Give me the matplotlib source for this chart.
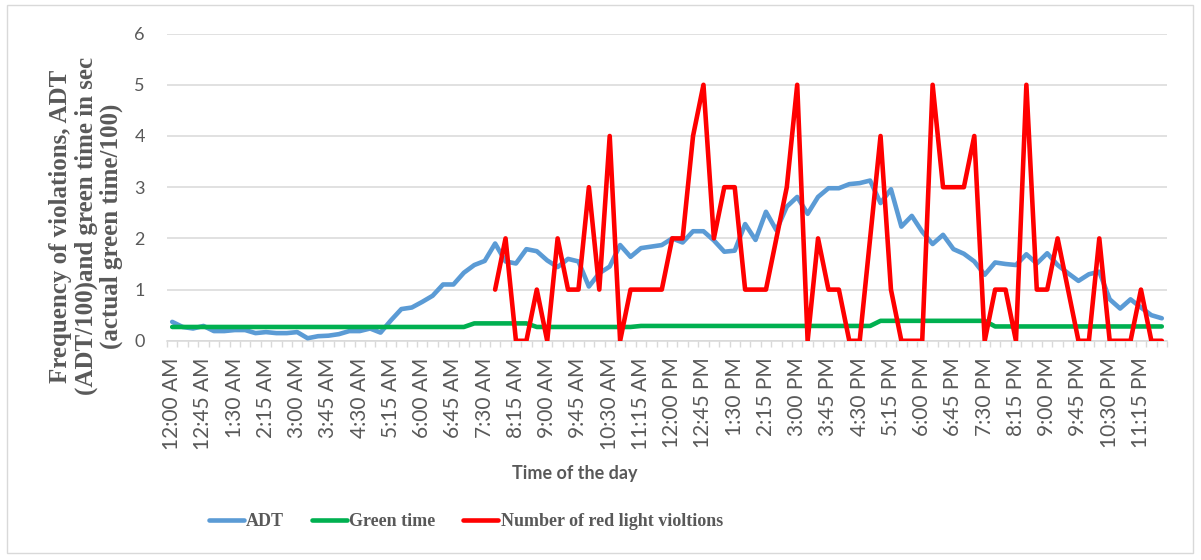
import matplotlib
matplotlib.use('Agg')
import matplotlib.pyplot as plt
from matplotlib.patches import Rectangle
import numpy as np

plt.rcParams['font.family'] = ['Lato', 'DejaVu Sans']

# Time labels, one every 15 minutes
times = []
for h in range(24):
    for m in (0, 15, 30, 45):
        hh = h % 12
        if hh == 0:
            hh = 12
        times.append('%d:%02d %s' % (hh, m, 'AM' if h < 12 else 'PM'))

# ADT (ADT/100)
adt = [0.37, 0.27, 0.24, 0.29, 0.19, 0.19, 0.21, 0.21, 0.15, 0.17,
       0.15, 0.15, 0.17, 0.05, 0.09, 0.10, 0.13, 0.19, 0.19, 0.24,
       0.16, 0.40, 0.62, 0.65, 0.76, 0.88, 1.10, 1.10, 1.33, 1.48,
       1.56, 1.90, 1.55, 1.51, 1.79, 1.75, 1.57, 1.44, 1.60, 1.55,
       1.06, 1.32, 1.45, 1.87, 1.64, 1.81, 1.84, 1.87, 2.00, 1.92,
       2.14, 2.14, 1.96, 1.74, 1.76, 2.28, 1.97, 2.52, 2.16, 2.62,
       2.81, 2.48, 2.81, 2.98, 2.98, 3.06, 3.08, 3.13, 2.69, 2.96,
       2.23, 2.44, 2.13, 1.89, 2.07, 1.79, 1.70, 1.55, 1.29, 1.53,
       1.50, 1.48, 1.69, 1.51, 1.71, 1.48, 1.32, 1.17, 1.30, 1.35,
       0.81, 0.63, 0.81, 0.65, 0.50, 0.44]

# Green time (actual green time/100)
green = [0.27, 0.27, 0.27, 0.27, 0.27, 0.27, 0.27, 0.27, 0.27, 0.27,
         0.27, 0.27, 0.27, 0.27, 0.27, 0.27, 0.27, 0.27, 0.27, 0.27,
         0.27, 0.27, 0.27, 0.27, 0.27, 0.27, 0.27, 0.27, 0.27, 0.34,
         0.34, 0.34, 0.34, 0.34, 0.34, 0.27, 0.27, 0.27, 0.27, 0.27,
         0.27, 0.27, 0.27, 0.27, 0.27, 0.29, 0.29, 0.29, 0.29, 0.29,
         0.29, 0.29, 0.29, 0.29, 0.29, 0.29, 0.29, 0.29, 0.29, 0.29,
         0.29, 0.29, 0.29, 0.29, 0.29, 0.29, 0.29, 0.29, 0.39, 0.39,
         0.39, 0.39, 0.39, 0.39, 0.39, 0.39, 0.39, 0.39, 0.39, 0.28,
         0.28, 0.28, 0.28, 0.28, 0.28, 0.28, 0.28, 0.28, 0.28, 0.28,
         0.28, 0.28, 0.28, 0.28, 0.28, 0.28]

# Red light violations (no data before 7:45 AM)
violations = [None] * 31 + [
    1, 2, 0, 0, 1, 0, 2, 1, 1, 3,
    1, 4, 0, 1, 1, 1, 1, 2, 2, 4,
    5, 2, 3, 3, 1, 1, 1, 2, 3, 5,
    0, 2, 1, 1, 0, 0, 2, 4, 1, 0,
    0, 0, 5, 3, 3, 3, 4, 0, 1, 1,
    0, 5, 1, 1, 2, 1, 0, 0, 2, 0,
    0, 0, 1, 0, 0]

x = np.arange(len(times))
red = np.array([np.nan if v is None else v for v in violations], dtype=float)

W, H = 1201, 560
fig = plt.figure(figsize=(W / 100, H / 100), dpi=100)
fig.patches.append(Rectangle((7 / W, 1 - 553 / H), 1186 / W, 548 / H,
                             transform=fig.transFigure, fill=False,
                             ec='#d9d9d9', lw=1))

ax = fig.add_axes([167 / W, 1 - 340.8 / H, 1000 / W, 307.2 / H])

ax.plot(x, adt, color='#5B9BD5', lw=3.3, solid_capstyle='round', solid_joinstyle='round', label='ADT', zorder=3)
ax.plot(x, green, color='#00B050', lw=3.3, solid_capstyle='round', solid_joinstyle='round', label='Green time', zorder=4)
ax.plot(x, red, color='#FF0000', lw=3.3, solid_capstyle='round', solid_joinstyle='round',
        label='Number of red light violtions', zorder=5)

ax.set_xlim(-0.5, len(times) - 0.5)
ax.set_ylim(0, 6)
ax.set_yticks(range(7))
ax.grid(axis='y', color='#d9d9d9', lw=1.1)
ax.set_axisbelow(True)
for s in ('left', 'right', 'top'):
    ax.spines[s].set_visible(False)
ax.spines['bottom'].set_color('#d9d9d9')
ax.spines['bottom'].set_linewidth(1.1)

ax.set_xticks(x[::3])
ax.set_xticklabels(times[::3], rotation=90)
ax.set_xticks(np.arange(-0.5, len(times), 1), minor=True)
ax.tick_params(axis='x', which='major', length=0, pad=12, labelsize=15, labelcolor='#595959')
ax.tick_params(axis='x', which='minor', length=4, width=1, color='#d9d9d9')
ax.tick_params(axis='y', length=0, pad=16, labelsize=13, labelcolor='#595959')

fig.text(575 / W, 1 - 473 / H, 'Time of the day', ha='center', va='center',
         fontsize=13, fontweight='bold', color='#595959')

fig.text(86 / W, 1 - 226 / H,
         'Frequency of violations, ADT\n(ADT/100)and green time in sec\n(actual green time/100)',
         rotation=90, ha='center', va='center', multialignment='center',
         family='Liberation Serif', fontweight='bold', fontsize=18,
         color='#595959', linespacing=1.12)

fig.legend(loc='center', bbox_to_anchor=(466 / W, 1 - 522 / H), ncol=3, frameon=False,
           prop={'family': 'Liberation Serif', 'weight': 'bold', 'size': 13},
           labelcolor='#595959', handlelength=1.9, handletextpad=0.15, columnspacing=1.55)

fig.savefig('out.png', dpi=100)
